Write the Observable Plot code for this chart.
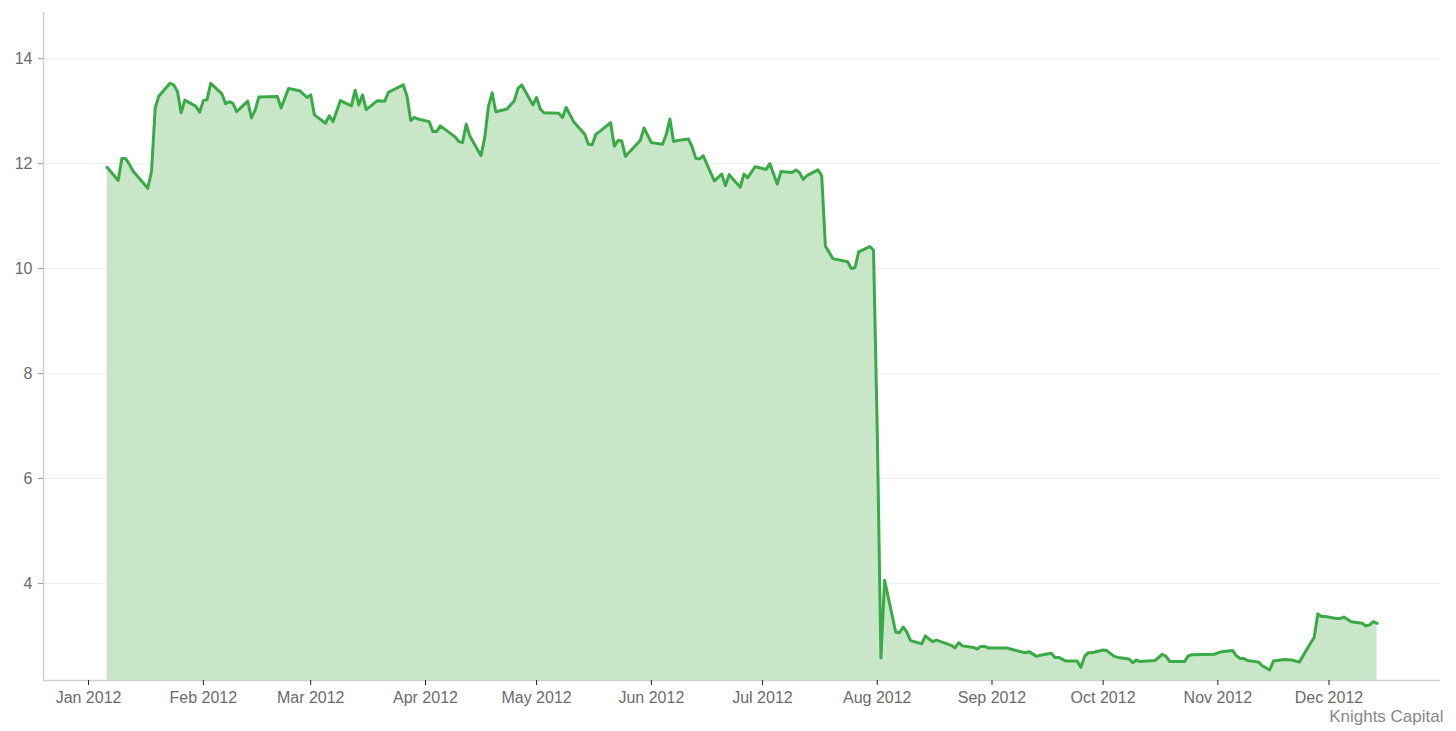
<!DOCTYPE html>
<html>
<head>
<meta charset="utf-8">
<script src="https://cdn.jsdelivr.net/npm/d3@7"></script>
<script src="https://cdn.jsdelivr.net/npm/@observablehq/plot@0.6"></script>
<style>
  html, body { margin: 0; padding: 0; background: #fff; }
  #chart { position: relative; width: 1456px; height: 731px; }
  svg { font-family: "Liberation Sans", Arial, sans-serif; }
</style>
</head>
<body>
<div id="chart"></div>
<script>
const dates = [
  "2012-01-06","2012-01-09","2012-01-10","2012-01-11","2012-01-12","2012-01-13","2012-01-17","2012-01-18","2012-01-19","2012-01-20",
  "2012-01-23","2012-01-24","2012-01-25","2012-01-26","2012-01-27","2012-01-30","2012-01-31","2012-02-01","2012-02-02","2012-02-03",
  "2012-02-06","2012-02-07","2012-02-08","2012-02-09","2012-02-10","2012-02-13","2012-02-14","2012-02-15","2012-02-16","2012-02-21",
  "2012-02-22","2012-02-24","2012-02-27","2012-02-29","2012-03-01","2012-03-02","2012-03-05","2012-03-06","2012-03-07","2012-03-09",
  "2012-03-12","2012-03-13","2012-03-14","2012-03-15","2012-03-16","2012-03-19","2012-03-21","2012-03-22","2012-03-26","2012-03-27",
  "2012-03-28","2012-03-29","2012-03-30","2012-04-02","2012-04-03","2012-04-04","2012-04-05","2012-04-09","2012-04-10","2012-04-11",
  "2012-04-12","2012-04-13","2012-04-16","2012-04-17","2012-04-18","2012-04-19","2012-04-20","2012-04-23","2012-04-25","2012-04-26",
  "2012-04-27","2012-04-30","2012-05-01","2012-05-02","2012-05-03","2012-05-07","2012-05-08","2012-05-09","2012-05-11","2012-05-14",
  "2012-05-15","2012-05-16","2012-05-17","2012-05-18","2012-05-21","2012-05-22","2012-05-23","2012-05-24","2012-05-25","2012-05-29",
  "2012-05-30","2012-05-31","2012-06-01","2012-06-04","2012-06-05","2012-06-06","2012-06-07","2012-06-08","2012-06-11","2012-06-12",
  "2012-06-13","2012-06-14","2012-06-15","2012-06-18","2012-06-20","2012-06-21","2012-06-22","2012-06-25","2012-06-26","2012-06-27",
  "2012-06-29","2012-07-02","2012-07-03","2012-07-05","2012-07-06","2012-07-09","2012-07-10","2012-07-11","2012-07-12","2012-07-13",
  "2012-07-16","2012-07-17","2012-07-18","2012-07-20","2012-07-24","2012-07-25","2012-07-26","2012-07-27","2012-07-30","2012-07-31",
  "2012-08-01","2012-08-02","2012-08-03","2012-08-06","2012-08-07","2012-08-08","2012-08-09","2012-08-10","2012-08-13","2012-08-14",
  "2012-08-15","2012-08-16","2012-08-17","2012-08-21","2012-08-22","2012-08-23","2012-08-24","2012-08-27","2012-08-28","2012-08-29",
  "2012-08-30","2012-08-31","2012-09-05","2012-09-07","2012-09-10","2012-09-11","2012-09-13","2012-09-14","2012-09-17","2012-09-18",
  "2012-09-19","2012-09-21","2012-09-24","2012-09-25","2012-09-26","2012-09-27","2012-09-28","2012-10-01","2012-10-02","2012-10-04",
  "2012-10-05","2012-10-08","2012-10-09","2012-10-10","2012-10-11","2012-10-15","2012-10-17","2012-10-18","2012-10-19","2012-10-23",
  "2012-10-24","2012-10-25","2012-10-31","2012-11-02","2012-11-05","2012-11-06","2012-11-07","2012-11-08","2012-11-09","2012-11-12",
  "2012-11-13","2012-11-15","2012-11-16","2012-11-19","2012-11-21","2012-11-23","2012-11-26","2012-11-27","2012-11-28","2012-11-29",
  "2012-11-30","2012-12-03","2012-12-04","2012-12-05","2012-12-07","2012-12-10","2012-12-11","2012-12-12","2012-12-13","2012-12-14"
];
const prices = [
  11.93,11.68,12.10,12.10,11.99,11.86,11.53,11.85,13.06,13.29,
  13.53,13.50,13.38,12.97,13.21,13.09,12.98,13.20,13.22,13.53,
  13.33,13.14,13.18,13.15,12.99,13.19,12.87,13.02,13.27,13.28,
  13.06,13.43,13.39,13.26,13.31,12.93,12.77,12.91,12.80,13.20,
  13.10,13.40,13.12,13.31,13.03,13.20,13.19,13.36,13.50,13.29,
  12.82,12.88,12.85,12.80,12.61,12.61,12.72,12.51,12.42,12.40,
  12.75,12.52,12.15,12.50,13.09,13.35,12.99,13.04,13.20,13.44,
  13.50,13.12,13.26,13.04,12.97,12.96,12.88,13.07,12.80,12.56,
  12.37,12.36,12.56,12.61,12.78,12.33,12.44,12.43,12.14,12.44,
  12.68,12.54,12.40,12.37,12.55,12.85,12.42,12.44,12.47,12.32,
  12.10,12.09,12.15,11.67,11.80,11.58,11.79,11.55,11.80,11.73,
  11.94,11.89,12.00,11.61,11.85,11.83,11.88,11.83,11.70,11.77,
  11.88,11.77,10.43,10.19,10.13,10.00,10.02,10.32,10.42,10.35,
  6.94,2.58,4.06,3.07,3.06,3.17,3.07,2.91,2.85,3.00,
  2.94,2.89,2.92,2.82,2.77,2.87,2.81,2.78,2.75,2.80,
  2.80,2.77,2.77,2.73,2.68,2.70,2.61,2.63,2.67,2.59,
  2.59,2.52,2.52,2.40,2.61,2.68,2.68,2.73,2.72,2.61,
  2.59,2.56,2.49,2.54,2.51,2.53,2.65,2.61,2.51,2.51,
  2.62,2.64,2.65,2.70,2.72,2.62,2.57,2.57,2.53,2.50,
  2.43,2.35,2.52,2.55,2.54,2.50,2.86,2.97,3.42,3.37,
  3.37,3.33,3.33,3.36,3.27,3.24,3.19,3.21,3.27,3.24
];
const yTicks = [4, 6, 8, 10, 12, 14];
const xTickMonths = ["2012-01-01","2012-02-01","2012-03-01","2012-04-01","2012-05-01","2012-06-01",
                     "2012-07-01","2012-08-01","2012-09-01","2012-10-01","2012-11-01","2012-12-01"];
const captionText = "Knights Capital";

const data = dates.map((d, i) => ({date: new Date(d), price: prices[i]}));
const xDomain = [new Date(Date.UTC(2011, 11, 19, 20)), new Date(Date.UTC(2012, 11, 31, 3))];
const yDomain = [2.15, 14.88];
const fmt = d3.utcFormat("%b %Y");

const chart = Plot.plot({
  width: 1456,
  height: 731,
  marginLeft: 43,
  marginRight: 16,
  marginTop: 12,
  marginBottom: 51,
  style: {fontFamily: "'Liberation Sans', Arial, sans-serif", background: "#fff"},
  x: {type: "utc", domain: xDomain},
  y: {domain: yDomain},
  marks: [
    Plot.gridY(yTicks, {stroke: "#efefef", strokeOpacity: 1}),
    Plot.areaY(data, {x: "date", y1: yDomain[0], y2: "price", fill: "#c9e6c9", fillOpacity: 1}),
    Plot.lineY(data, {x: "date", y: "price", stroke: "#3aaa47", strokeWidth: 3, strokeLinejoin: "round"}),
    Plot.ruleX([xDomain[0]], {stroke: "#d0d0d0", strokeWidth: 1.5}),
    Plot.ruleY([yDomain[0]], {stroke: "#d0d0d0", strokeWidth: 1.5}),
    Plot.axisY(yTicks, {tickSize: 5, tickPadding: 6, stroke: "#999", fill: "#6b6b6b", fontSize: 16, tickFormat: d => String(d), label: null}),
    Plot.axisX(xTickMonths.map(d => new Date(d)), {tickSize: 5, tickPadding: 6, stroke: "#222", fill: "#6b6b6b", fontSize: 16, tickFormat: fmt, label: null}),
    Plot.text([captionText], {frameAnchor: "bottom-right", dx: 3, dy: 41, fill: "#888", fontSize: 17, textAnchor: "end", lineAnchor: "bottom"})
  ]
});
document.getElementById("chart").appendChild(chart);
</script>
</body>
</html>
